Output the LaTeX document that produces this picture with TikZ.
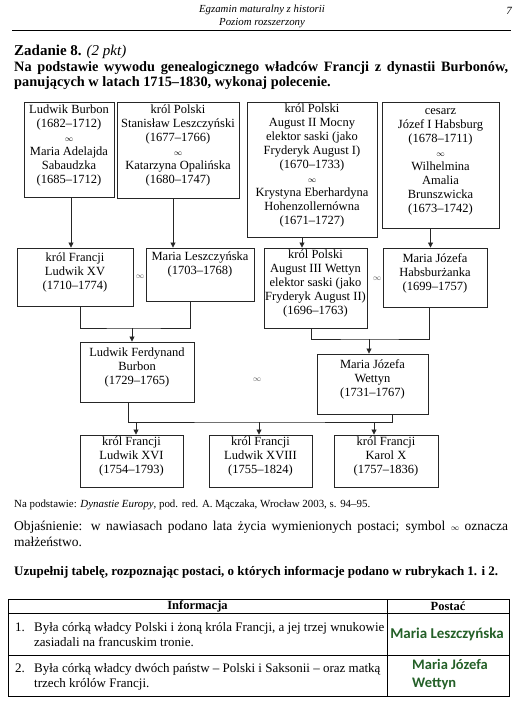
\documentclass[tikz,border=0pt]{standalone}
\usepackage{fontspec}
\setmainfont{Liberation Serif}
\newfontfamily\calib{Carlito}
\usetikzlibrary{arrows.meta,positioning,calc,fit}
\definecolor{odpowiedz}{RGB}{36,96,40}
\newcommand{\malz}{{\fontsize{8}{10}\selectfont$\infty$}}

\tikzset{
  osoba/.style={draw=black!85, line width=0.9pt, inner sep=0pt, align=center,
    font=\fontsize{12.5}{14}\selectfont},
  linia/.style={draw=black!85, line width=0.8pt},
  strz/.style={linia, -{Triangle[length=5pt,width=5pt]}},
  slub/.style={font=\fontsize{8}{10}\selectfont, text=black!65},
  tekst/.style={inner sep=0pt, font=\fontsize{13}{15}\selectfont},
}

\begin{document}
\begin{tikzpicture}[x=1pt,y=-1pt]
\useasboundingbox[fill=white] (0,0) rectangle (523,708);

% naglowek strony
\node[font=\itshape\fontsize{10.8}{12.5}\selectfont, align=center] (naglowek) at (262,16.5) {Egzamin maturalny z historii\\Poziom rozszerzony};
\node[font=\itshape\fontsize{11}{13}\selectfont] (strona) at (509,11) {7};
\draw[line width=0.9pt] (12,30) -- (511,30);

\node[tekst, anchor=base west, font=\bfseries\fontsize{15}{18}\selectfont] (zadanie) at (14,56) {Zadanie 8. \mdseries\itshape(2 pkt)};
\node[tekst, anchor=north west, text width=494pt, align=justify, font=\bfseries\fontsize{14.3}{15}\selectfont] (polecenie) at (14,61.5)
  {Na podstawie wywodu genealogicznego władców Francji z dynastii Burbonów, panujących w latach 1715–1830, wykonaj polecenie.};

% wywod genealogiczny
\node[osoba, fit={(24,102) (114,197)}] (burbon) {Ludwik Burbon\\(1682–1712)\\\malz\\Maria Adelajda\\Sabaudzka\\(1685–1712)};
\node[osoba, fit={(117,102) (239,198)}] (stanislaw) {król Polski\\Stanisław Leszczyński\\(1677–1766)\\\malz\\Katarzyna Opalińska\\(1680–1747)};
\node[osoba, fit={(247,102) (377,237)}] (august2) {król Polski\\August II Mocny\\elektor saski (jako\\Fryderyk August I)\\(1670–1733)\\\malz\\Krystyna Eberhardyna\\Hohenzollernówna\\(1671–1727)};
\node[osoba, fit={(382,102) (499,228)}] (jozef1) {cesarz\\Józef I Habsburg\\(1678–1711)\\\malz\\Wilhelmina\\Amalia\\Brunszwicka\\(1673–1742)};

\node[osoba, fit={(17,248) (133,306)}] (ludwik15) {król Francji\\Ludwik XV\\(1710–1774)};
\node[osoba, fit={(146,248) (254,301)}] (mleszcz) {Maria Leszczyńska\\(1703–1768)\\\mbox{}};
\node[osoba, fit={(264,248) (367,328)}] (august3) {król Polski\\August III Wettyn\\elektor saski (jako\\Fryderyk August II)\\(1696–1763)};
\node[osoba, fit={(383,248) (487,307)}] (mjhabs) {Maria Józefa\\Habsburżanka\\(1699–1757)};

\node[osoba, fit={(80,342) (194,402)}] (lferd) {Ludwik Ferdynand\\Burbon\\(1729–1765)};
\node[osoba, fit={(317,354) (428,414)}] (mjwett) {Maria Józefa\\Wettyn\\(1731–1767)};

\node[osoba, fit={(80,435) (183,487)}] (ludwik16) {król Francji\\Ludwik XVI\\(1754–1793)};
\node[osoba, fit={(209,435) (312,487)}] (ludwik18) {król Francji\\Ludwik XVIII\\(1755–1824)};
\node[osoba, fit={(334,435) (438,487)}] (karol10) {król Francji\\Karol X\\(1757–1836)};

\node[slub] (slub1) at (140,277) {$\infty$};
\node[slub] (slub2) at (377,279) {$\infty$};
\node[slub] (slub3) at (257,380) {$\infty$};

\draw[strz] ([xshift=2pt]burbon.south) -- ([xshift=2pt]burbon.south |- ludwik15.north);
\draw[strz] ([xshift=-5pt]stanislaw.south) -- ([xshift=-5pt]stanislaw.south |- mleszcz.north);
\draw[strz] ([xshift=-10pt]august2.south) -- ([xshift=-10pt]august2.south |- august3.north);
\draw[strz] ([xshift=-10pt]jozef1.south) -- ([xshift=-10pt]jozef1.south |- mjhabs.north);

\coordinate (rodz1) at (132,328);
\coordinate (rodz2) at (369,339);
\coordinate (rodz3) at (259,422);
\draw[linia] ([xshift=5pt]ludwik15.south) |- (rodz1) -| ([xshift=-10pt]mleszcz.south);
\draw[strz] (rodz1) -- (rodz1 |- lferd.north);
\draw[linia] ([xshift=-4.5pt]august3.south) |- (rodz2) -| ([xshift=-6pt]mjhabs.south);
\draw[strz] (rodz2) -- (rodz2 |- mjwett.north);
\draw[linia] ([xshift=-9pt]lferd.south) |- (rodz3) -| ([xshift=19.5pt]mjwett.south);
\foreach \dz/\dx in {ludwik16/4.5, ludwik18/-1.5, karol10/-12}
  \draw[strz] ([xshift=\dx pt]\dz.north |- rodz3) -- ([xshift=\dx pt]\dz.north);

% zrodlo i objasnienie
\node[tekst, anchor=base west, font=\fontsize{10.9}{12}\selectfont] (zrodlo) at (14,507)
  {Na podstawie: \textit{Dynastie Europy}, pod. red. A. Mączaka, Wrocław 2003, s. 94–95.};
\node[tekst, anchor=north west, text width=494pt, align=justify, font=\fontsize{13.5}{15.5}\selectfont] (objasn) at (14,521)
  {Objaśnienie: w nawiasach podano lata życia wymienionych postaci; symbol {\fontsize{8}{10}\selectfont$\infty$} oznacza małżeństwo.};
\node[tekst, anchor=base west, font=\bfseries\fontsize{13}{15}\selectfont] (uzupelnij) at (14,575)
  {Uzupełnij tabelę, rozpoznając postaci, o których informacje podano w rubrykach 1. i 2.};

% tabela
\draw[line width=0.9pt] (8,599) rectangle (509,696);
\draw[line width=0.7pt] (8,613) -- (509,613) (8,655) -- (509,655) (387,599) -- (387,696);
\node[tekst, font=\bfseries\fontsize{12.5}{15}\selectfont] (info) at (197.5,606.5) {Informacja};
\node[tekst, font=\bfseries\fontsize{12.5}{15}\selectfont] (postac) at (448,606.5) {Postać};
\node[tekst, anchor=base west] (nr1) at (15,631) {1.};
\node[tekst, anchor=north west, align=left] (info1) at (34,622) {Była córką władcy Polski i żoną króla Francji, a jej trzej wnukowie\\zasiadali na francuskim tronie.};
\node[tekst, anchor=base west] (nr2) at (15,672) {2.};
\node[tekst, anchor=north west, align=left] (info2) at (34,663) {Była córką władcy dwóch państw – Polski i Saksonii – oraz matką\\trzech królów Francji.};
\node[tekst, font=\calib\bfseries\fontsize{15}{17}\selectfont, text=odpowiedz] (odp1) at (447,634) {Maria Leszczyńska};
\node[tekst, anchor=west, align=left, font=\calib\bfseries\fontsize{14.5}{18}\selectfont, text=odpowiedz] (odp2) at (412,675) {Maria Józefa\\Wettyn};
\end{tikzpicture}
\end{document}
